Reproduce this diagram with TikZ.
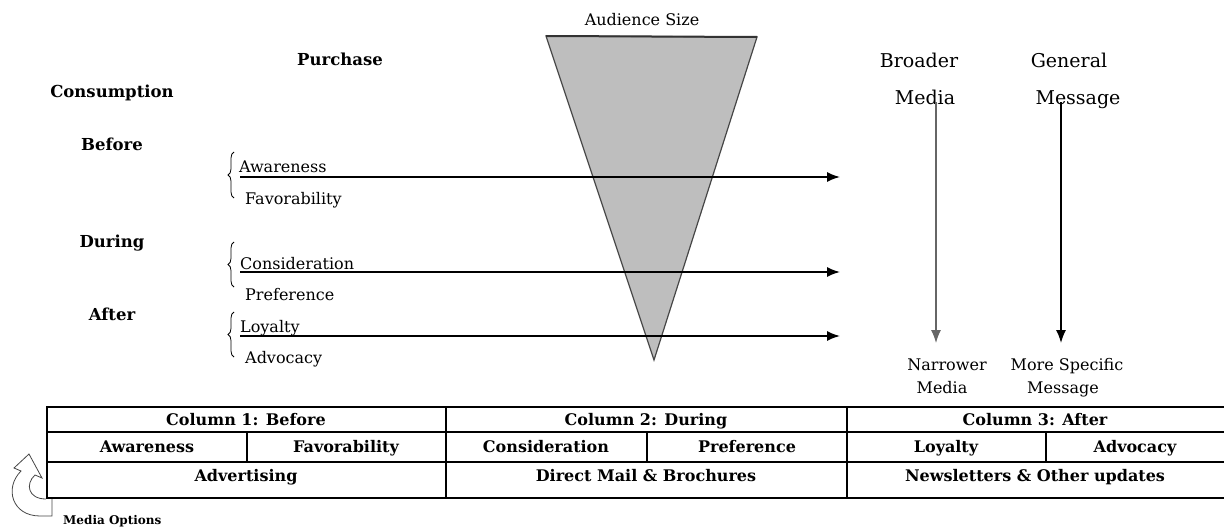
\documentclass[tikz,border=0pt]{standalone}
\usepackage{fontspec}
\setmainfont{DejaVu Serif}
\usetikzlibrary{arrows.meta,decorations.pathreplacing}
\definecolor{funnelgray}{RGB}{190,190,190}
\definecolor{edgegray}{RGB}{70,70,70}

\begin{document}
\begin{tikzpicture}[x=1pt,y=-1pt,
  txt/.style={inner sep=0pt,font=\fontsize{16}{19}\selectfont},
  head/.style={inner sep=0pt,font=\bfseries\fontsize{16.5}{19}\selectfont},
  big/.style={inner sep=0pt,font=\fontsize{19}{23}\selectfont},
  small/.style={inner sep=0pt,font=\fontsize{16}{19}\selectfont},
  cell/.style={inner sep=0pt,font=\bfseries\fontsize{16}{19}\selectfont},
  flow/.style={line width=1.6pt,-{Latex[length=13pt,width=10pt]}},
  grp/.style={decorate,decoration={brace,amplitude=6pt},line width=0.8pt}]
\useasboundingbox (0,0) rectangle (1224,527);

% Funnel: audience size
\draw[edgegray,fill=funnelgray,line width=1.2pt] (546,36) -- (757,37) -- (654,360) -- cycle;
\draw[line width=2pt,black!80] (546,36) -- (757,37);
\node[txt,anchor=base] (aud) at (642,26) {Audience Size};

% Left labels
\node[head,anchor=base] (purch) at (340,66) {Purchase};
\node[head,anchor=base] (cons) at (112,98) {Consumption};
\node[head,anchor=base] (bef) at (112,150) {Before};
\node[head,anchor=base] (dur) at (112,247) {During};
\node[head,anchor=base] (aft) at (112,320) {After};

% Stages with braces
\foreach \n/\x/\y/\t in {aware/239/172/Awareness, favor/245/204/Favorability,
    consid/240/269/Consideration, pref/245/300/Preference,
    loyal/240/332/Loyalty, advoc/245/363/Advocacy} {
    \node[txt,anchor=base west] (\n) at (\x,\y) {\t};
}
\foreach \a/\b in {152/198, 242/287, 312/357} {
    \draw[grp] (234,\b) -- (234,\a);
}

% Arrows through the funnel
\foreach \i/\y in {1/177, 2/272, 3/336} {
    \coordinate (s\i) at (240,\y);
    \coordinate (e\i) at (840,\y);
    \draw[flow] (s\i) -- (e\i);
}

% Media and message
\node[big,anchor=base] (broad) at (919,67) {Broader};
\node[big,anchor=base] (bmedia) at (925,104) {Media};
\node[big,anchor=base] (gen) at (1069,67) {General};
\node[big,anchor=base] (gmsg) at (1078,104) {Message};
\node[small,anchor=base] (narrow) at (947,370) {Narrower};
\node[small,anchor=base] (nmedia) at (942,393) {Media};
\node[small,anchor=base] (spec) at (1067,370) {More Specific};
\node[small,anchor=base] (smsg) at (1063,393) {Message};
\coordinate (mtop) at (936,102);
\coordinate (mbot) at (936,343);
\coordinate (gtop) at (1061,102);
\coordinate (gbot) at (1061,343);
\draw[flow,line width=1.2pt,black!60] (mtop) -- (mbot);
\draw[flow,line width=1.4pt] (gtop) -- (gbot);

% Table
\begin{scope}[line width=2.5pt]
\draw (1232,407) -- (47,407) -- (47,498) -- (1232,498);
\draw (47,432) -- (1232,432);
\draw (47,462) -- (1232,462);
\foreach \x in {446,847} \draw (\x,407) -- (\x,498);
\foreach \x in {247,647,1046} \draw (\x,432) -- (\x,462);
\end{scope}
\foreach \n/\x/\y/\t in {col1/246/425/Column 1: Before, col2/646/425/Column 2: During,
    col3/1035/425/Column 3: After,
    t1/147/452/Awareness, t2/346/452/Favorability, t3/546/452/Consideration,
    t4/747/452/Preference, t5/946/452/Loyalty, t6/1135/452/Advocacy,
    m1/246/481/Advertising, m2/646/481/Direct Mail \& Brochures,
    m3/1035/481/Newsletters \& Other updates} {
    \node[cell,anchor=base] (\n) at (\x,\y) {\t};
}

% Media options
\draw[edgegray,line width=0.8pt] (52,499) -- (52,516) -- (40,516)
    .. controls (12,516) and (4,488) .. (21,471) -- (14,468) -- (29,454)
    -- (42,478) -- (35,475) .. controls (25,484) and (28,499) .. (46,499);
\node[inner sep=0pt,font=\bfseries\fontsize{12}{14}\selectfont,anchor=base west] (mopt) at (63,524) {Media Options};
\end{tikzpicture}
\end{document}
